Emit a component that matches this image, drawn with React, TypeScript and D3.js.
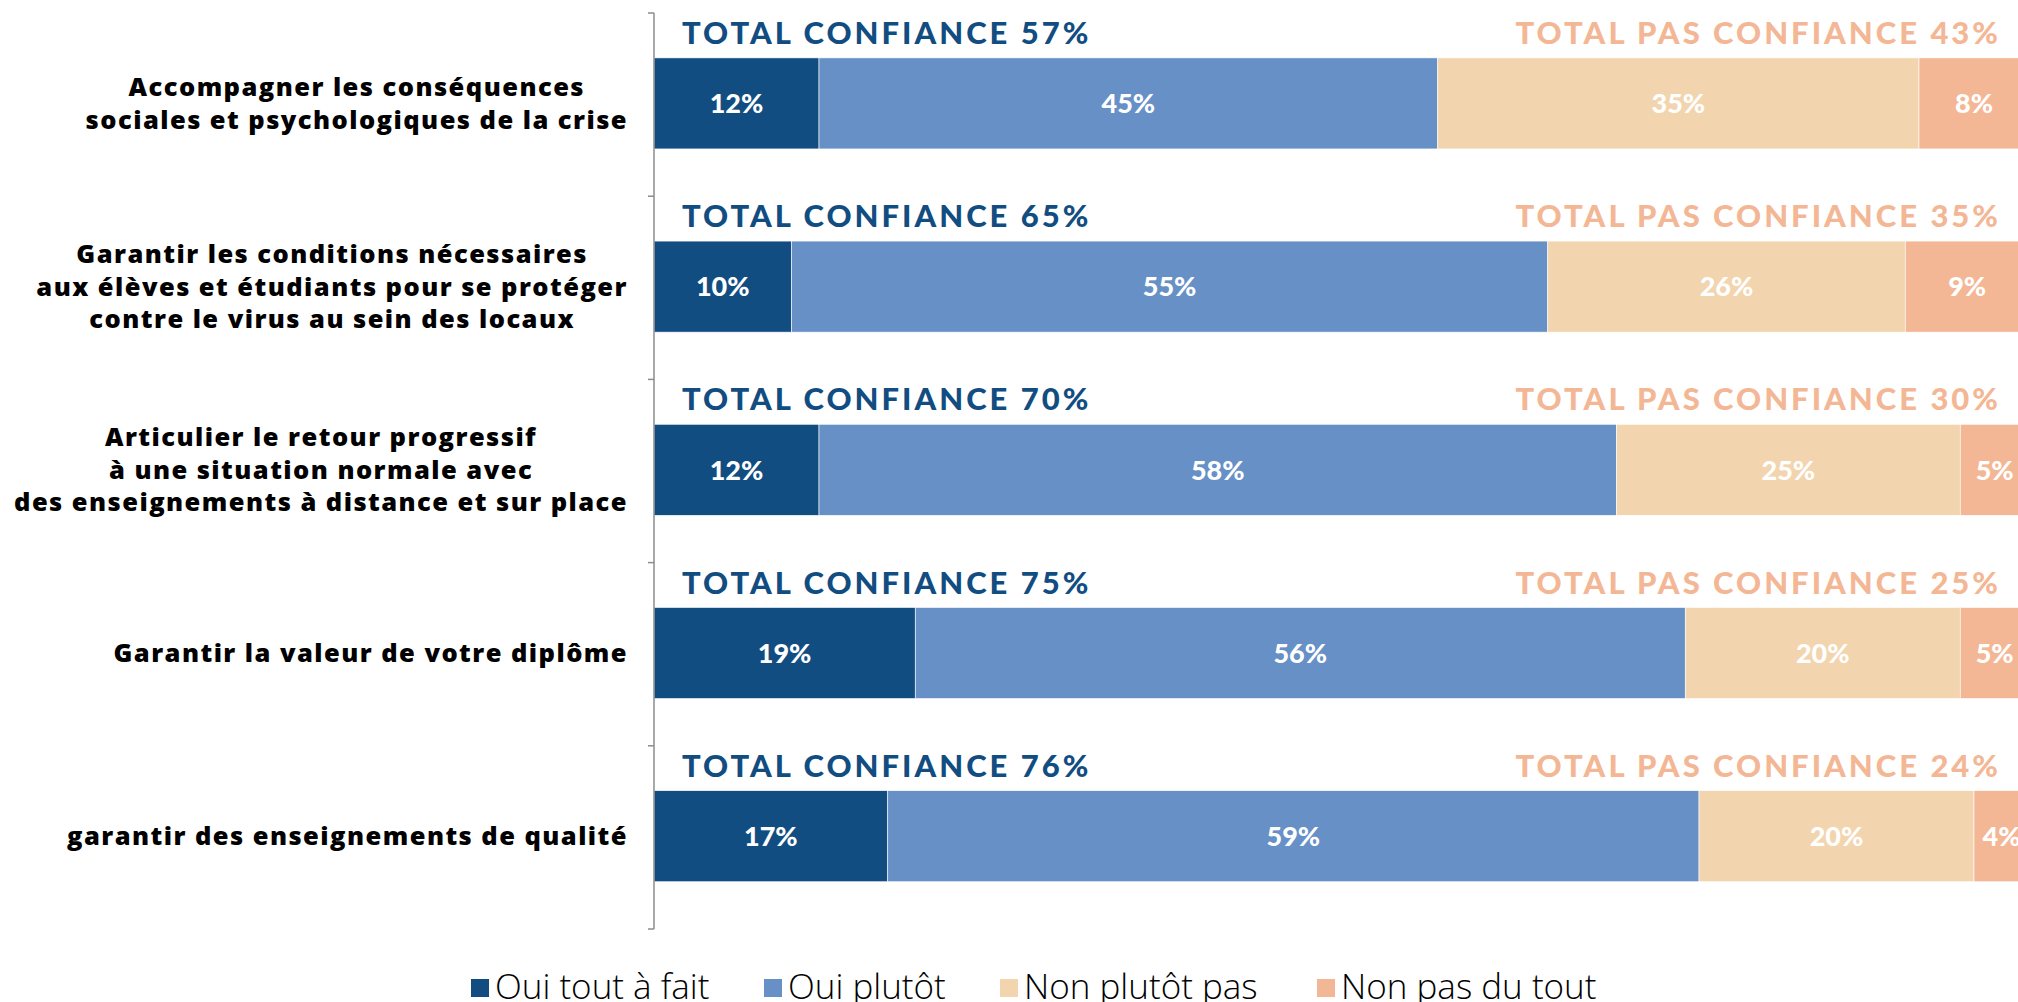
import React, { useEffect, useRef } from "react";
import * as d3 from "d3";

const categories = [
  "Accompagner les conséquences\nsociales et psychologiques de la crise",
  "Garantir les conditions nécessaires\naux élèves et étudiants pour se protéger\ncontre le virus au sein des locaux",
  "Articulier le retour progressif\nà une situation normale avec\ndes enseignements à distance et sur place",
  "Garantir la valeur de votre diplôme",
  "garantir des enseignements de qualité ",
];
const seriesNames = ["Oui tout à fait", "Oui plutôt", "Non plutôt pas", "Non pas du tout"];
const ouiToutAFait = [12, 10, 12, 19, 17];
const ouiPlutot = [45, 55, 58, 56, 59];
const nonPlutotPas = [35, 26, 25, 20, 20];
const nonPasDuTout = [8, 9, 5, 5, 4];
const totalConfiance = [57, 65, 70, 75, 76];
const totalPasConfiance = [43, 35, 30, 25, 24];
const colors = ["#124d82", "#6690c6", "#f2d5ae", "#f3b795"];

const W = 2018;
const H = 1002;

export default function App() {
  const ref = useRef<SVGSVGElement>(null);
  useEffect(() => {
    const svg = d3.select(ref.current);
    svg.selectAll("*").remove();
    const x = d3.scaleLinear().domain([0, 100]).range([654, 2029]);
    const y = d3.scaleBand<string>().domain(categories).range([13, 929]);
    const bw = y.bandwidth();
    const values = [ouiToutAFait, ouiPlutot, nonPlutotPas, nonPasDuTout];
    const rows = categories.map((c, i) => ({ c, i, v: values.map((s) => s[i]) }));
    const stacked = d3.stack<any, number>().keys([0, 1, 2, 3]).value((d: any, k) => d.v[k])(rows as any);

    const g = svg.append("g");
    stacked.forEach((layer, k) => {
      layer.forEach((seg: any, i) => {
        const c = categories[i];
        const y0 = (y(c) as number) + bw * 0.245;
        const h = bw * 0.497;
        g.append("rect")
          .attr("x", x(seg[0]))
          .attr("y", y0)
          .attr("width", x(seg[1]) - x(seg[0]))
          .attr("height", h)
          .attr("fill", colors[k])
          .attr("stroke", "#ffffff")
          .attr("stroke-width", 0.6);
        g.append("text")
          .attr("x", (x(seg[0]) + x(seg[1])) / 2)
          .attr("y", y0 + h / 2)
          .attr("dy", "0.36em")
          .attr("text-anchor", "middle")
          .attr("fill", "#ffffff")
          .attr("font-family", "Lato")
          .attr("font-weight", 900)
          .attr("font-size", 27)
          .text(`${seg[1] - seg[0]}%`);
      });
    });

    // totals
    categories.forEach((c, i) => {
      const yb = (y(c) as number) + 31;
      g.append("text")
        .attr("x", 682)
        .attr("y", yb)
        .attr("fill", "#124d82")
        .attr("font-family", "Lato")
        .attr("font-weight", 900)
        .attr("font-size", 31)
        .attr("letter-spacing", 3)
        .text(`TOTAL CONFIANCE ${totalConfiance[i]}%`);
      g.append("text")
        .attr("x", 2001)
        .attr("y", yb)
        .attr("text-anchor", "end")
        .attr("fill", "#f3b795")
        .attr("font-family", "Lato")
        .attr("font-weight", 900)
        .attr("font-size", 31)
        .attr("letter-spacing", 3)
        .text(`TOTAL PAS CONFIANCE ${totalPasConfiance[i]}%`);
    });

    // axis
    const ax = svg.append("g").attr("transform", "translate(654,0)");
    ax.append("line").attr("x1", 0).attr("x2", 0).attr("y1", 13).attr("y2", 929).attr("stroke", "#8c8c8c").attr("stroke-width", 1.5);
    const tickYs = categories.map((c) => y(c) as number).concat([929]);
    tickYs.forEach((ty) => {
      ax.append("line").attr("x1", -6).attr("x2", 0).attr("y1", ty).attr("y2", ty).attr("stroke", "#8c8c8c").attr("stroke-width", 1.5);
    });

    // category labels
    categories.forEach((c) => {
      const lines = c.split("\n");
      const cy = (y(c) as number) + bw * 0.245 + (bw * 0.497) / 2;
      const lh = 32.5;
      const t = svg.append("text")
        .attr("font-family", "Open Sans")
        .attr("font-weight", 800)
        .attr("font-size", 25.5)
        .attr("letter-spacing", 1.45)
        .attr("fill", "#000000")
        .attr("text-anchor", "middle");
      const tspans = lines.map((ln, j) =>
        t.append("tspan").attr("y", cy + (j - (lines.length - 1) / 2) * lh).attr("dy", "0.35em").text(ln)
      );
      let maxW = 0;
      tspans.forEach((ts) => {
        const w = (ts.node() as SVGTSpanElement).getComputedTextLength();
        if (w > maxW) maxW = w;
      });
      const cx = 628 - maxW / 2;
      tspans.forEach((ts) => ts.attr("x", cx));
    });

    // legend
    const legX = [471, 764, 1000, 1317];
    seriesNames.forEach((n, k) => {
      svg.append("rect").attr("x", legX[k]).attr("y", 979).attr("width", 18).attr("height", 18).attr("fill", colors[k]);
      svg.append("text")
        .attr("x", legX[k] + 24)
        .attr("y", 999)
        .attr("font-family", "Open Sans")
        .attr("font-weight", 300)
        .attr("font-size", 35)
        .attr("fill", "#000000")
        .text(n);
    });
  }, []);
  return (
    <svg ref={ref} width={W} height={H} style={{ position: "absolute", left: 0, top: 0, background: "#ffffff" }} />
  );
}
